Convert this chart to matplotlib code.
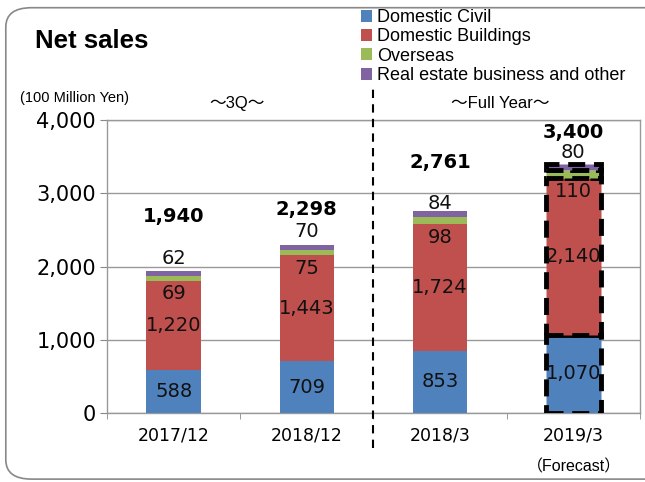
import matplotlib.pyplot as plt
from matplotlib.patches import FancyBboxPatch

plt.rcParams['font.family'] = ['Liberation Sans', 'Noto Sans CJK JP', 'DejaVu Sans']
NUM = ['DejaVu Sans']   # wider digits, closer to the original

periods = ['2017/12', '2018/12', '2018/3', '2019/3']
civil = [588, 709, 853, 1070]
buildings = [1220, 1443, 1724, 2140]
overseas = [69, 75, 98, 110]
real_estate = [62, 70, 84, 80]
totals = ['1,940', '2,298', '2,761', '3,400']

series = ['Domestic Civil', 'Domestic Buildings', 'Overseas', 'Real estate business and other']
colors = ['#4F81BD', '#C0504D', '#9BBB59', '#8064A2']

# label offsets (value units) for the hand-placed labels
top_off = [175, 175, 95, 150]
total_off = [740, 475, 655, 425]

fig = plt.figure(figsize=(6.45, 4.82), dpi=100)
ax = fig.add_axes([0.166, 0.143, 0.826, 0.608])

x = range(len(periods))
w = 0.41
bottom = [0] * 4
for vals, col, name in zip([civil, buildings, overseas, real_estate], colors, series):
    bars = ax.bar(x, vals, w, bottom=bottom, color=col, label=name, zorder=3)
    # forecast bar gets dashed outline
    bars[3].set_edgecolor('black')
    bars[3].set_linestyle((0, (3.5, 1.8)))
    bars[3].set_linewidth(3.5)
    bottom = [b + v for b, v in zip(bottom, vals)]

lbl = dict(ha='center', va='center', fontsize=14, family=NUM, color='#111111', zorder=5)
for i in x:
    ax.text(i, civil[i] / 2, f'{civil[i]:,}', **lbl)
    ax.text(i, civil[i] + buildings[i] / 2, f'{buildings[i]:,}', **lbl)
    red_top = civil[i] + buildings[i]
    ax.text(i, red_top - 180, f'{overseas[i]}', **lbl)
    ax.text(i, bottom[i] + top_off[i], f'{real_estate[i]}', **lbl)
    ax.text(i, bottom[i] + total_off[i], totals[i], ha='center', va='center', fontsize=14,
            fontweight='bold', family=NUM, zorder=5)

ax.set_xlim(-0.5, 3.5)
ax.set_ylim(0, 4000)
ax.set_yticks([0, 1000, 2000, 3000, 4000])
ax.set_yticklabels(['0', '1,000', '2,000', '3,000', '4,000'], fontsize=15, family=NUM)
ax.set_xticks(list(x))
ax.set_xticklabels(periods, fontsize=12.5, family=NUM)
ax.set_xticks([-0.5, 0.5, 1.5, 2.5, 3.5], minor=True)
ax.tick_params(axis='x', which='major', length=0, pad=10)
ax.tick_params(axis='x', which='minor', length=4, color='#888888')
ax.tick_params(axis='y', length=5, color='#888888', pad=3)
ax.grid(axis='y', color='#999999', linewidth=1, zorder=0)
for s in ax.spines.values():
    s.set_color('#999999')
    s.set_linewidth(1)

# divider between 3Q and full-year
ax.plot([1.5, 1.5], [-470, 4440], color='black', linestyle=(0, (4, 3)), linewidth=1.5,
        clip_on=False, zorder=6)

ax.legend(loc='upper left', bbox_to_anchor=(0.545, 1.0), bbox_transform=fig.transFigure,
          frameon=False, fontsize=13, handlelength=0.65, handleheight=0.65,
          handletextpad=0.25, labelspacing=0.13, borderaxespad=0.1)

fig.text(0.054, 0.915, 'Net sales', fontsize=18.5, fontweight='bold', va='center')
fig.text(0.031, 0.797, '(100 Million Yen)', fontsize=10.5, va='center')
fig.text(0.367, 0.785, '～3Q～', fontsize=12, ha='center', va='center')
fig.text(0.775, 0.785, '～Full Year～', fontsize=12, ha='center', va='center')
fig.text(0.89, 0.032, '（Forecast）', fontsize=11.5, ha='center', va='center')

frame = FancyBboxPatch((0.009, 0.006), 1.1, 0.978, boxstyle='round,pad=0,rounding_size=0.04',
                       transform=fig.transFigure, facecolor='none', edgecolor='#888888',
                       linewidth=1.2, clip_on=False)
fig.patches.append(frame)

fig.savefig('out.png', dpi=100)
